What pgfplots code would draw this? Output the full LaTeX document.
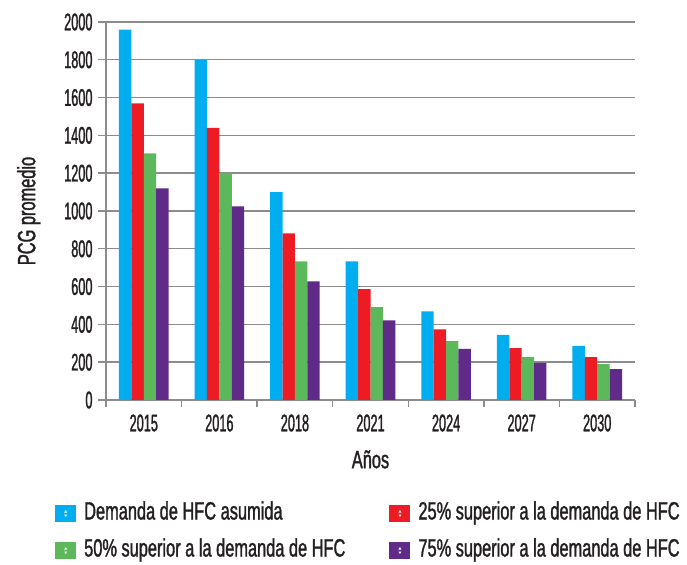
\documentclass[border=0pt]{standalone}
\usepackage{fontspec}
\setmainfont[FakeStretch=0.655, FakeBold=1.3]{Liberation Sans}
\newfontfamily\tickfont[FakeStretch=0.53, FakeBold=1.2]{Liberation Sans}
\usepackage{pgfplots}
\pgfplotsset{compat=1.18}
\definecolor{cblue}{HTML}{00AEEF}
\definecolor{cred}{HTML}{ED1C24}
\definecolor{cgreen}{HTML}{5CB85A}
\definecolor{cpurple}{HTML}{5F2A88}
\definecolor{ctext}{HTML}{231F20}
\definecolor{cgrid}{HTML}{8C8C8C}
\pgfplotstableread{
x blue red green purple
0 1960 1570 1305 1120
1 1800 1440 1200 1024
2 1100 882 734 628
3 734 587 492 421
4 469 374 312 270
5 344 275 227 196
6 286 227 190 164
}\datatable
\begin{document}
\begin{tikzpicture}[x=1bp,y=1bp]
\path[use as bounding box] (0,0) rectangle (687,565);
\begin{axis}[
  at={(106bp,165bp)}, anchor=south west,
  scale only axis, width=529bp, height=378bp,
  xmin=-0.5, xmax=6.5, ymin=0, ymax=2000,
  axis x line*=bottom, axis y line*=left,
  axis line style={cgrid, line width=1.4bp, -},
  ytick={0,200,...,2000},
  xtick={0,...,6},
  xticklabels={2015,2016,2018,2021,2024,2027,2030},
  tick align=outside,
  x tick style={draw=none},
  y tick style={cgrid, line width=1.4bp},
  major tick length=8bp,
  extra x ticks={-0.5,0.5,...,6.5},
  extra x tick labels={},
  extra x tick style={grid=none, x tick style={draw=cgrid, line width=1.4bp}, major tick length=7bp},
  ymajorgrids,
  major grid style={cgrid, line width=1.4bp},
  /pgf/number format/assume math mode=true,
  /pgf/number format/set thousands separator={},
  ticklabel style={font=\tickfont\fontsize{24bp}{26bp}\selectfont, text=ctext},
  yticklabel style={xshift=-2bp},
  xticklabel style={yshift=-3bp},
  label style={font=\fontsize{25bp}{27bp}\selectfont, text=ctext},
  ylabel={PCG promedio},
  ylabel style={at={(axis description cs:-0.146,0.5)}, anchor=center, rotate=0},
  xlabel={Años},
  xlabel style={at={(axis description cs:0.5,-0.157)}, anchor=center},
  ybar=0pt, bar width=12.4bp,
  legend columns=2,
  legend cell align=left,
  legend style={at={(rel axis cs:-0.0964,-0.268)}, anchor=north west,
    draw=none, fill=none, inner sep=0pt, row sep=13bp,
    font=\fontsize{25bp}{27bp}\selectfont, text=ctext,
    nodes={inner xsep=8bp, inner ysep=1bp, text height=17bp, text depth=5bp},
    /tikz/every even column/.append style={column sep=36bp}},
  legend image code/.code={
    \fill[#1, draw=none] (0bp,-8.5bp) rectangle (21bp,8.5bp);
    \fill[white] (9bp,1bp)--(12bp,1bp)--(10.5bp,3.5bp)--cycle;
    \fill[white] (9bp,-1bp)--(12bp,-1bp)--(10.5bp,-3.5bp)--cycle;
  },
]
\addplot[fill=cblue, draw=none] table[x=x, y=blue] {\datatable};
\addplot[fill=cred, draw=none] table[x=x, y=red] {\datatable};
\addplot[fill=cgreen, draw=none] table[x=x, y=green] {\datatable};
\addplot[fill=cpurple, draw=none] table[x=x, y=purple] {\datatable};
\legend{Demanda de HFC asumida, 25\% superior a la demanda de HFC, 50\% superior a la demanda de HFC, 75\% superior a la demanda de HFC}
\end{axis}
\end{tikzpicture}
\end{document}
